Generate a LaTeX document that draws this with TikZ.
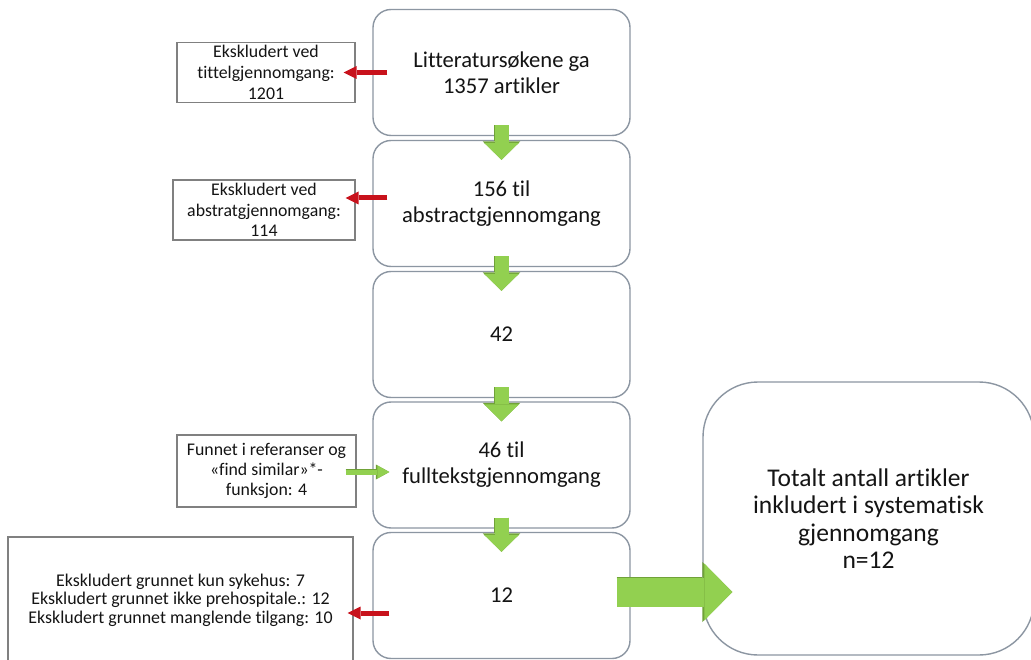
\documentclass[tikz,border=0pt]{standalone}
\usepackage{fontspec}
\setmainfont{Carlito}[Ligatures=NoCommon]
\usetikzlibrary{arrows.meta,calc}
\definecolor{gfill}{RGB}{146,208,80}
\definecolor{gline}{RGB}{112,162,56}
\definecolor{rfill}{RGB}{200,18,28}
\definecolor{bline}{RGB}{140,150,162}
\definecolor{lline}{RGB}{128,128,128}
\definecolor{txt}{RGB}{20,20,20}
\begin{document}
\begin{tikzpicture}[x=1pt,y=-1pt,
  flowbox/.style={draw=bline, line width=1.4pt, rounded corners=18pt, minimum width=257pt, minimum height=126pt, align=center, text=txt, font=\fontsize{22.6}{26}\selectfont, fill=white},
  sidebox/.style={draw=lline, line width=1.1pt, align=center, text=txt, font=\fontsize{17.8}{20.8}\selectfont, fill=white, inner sep=0pt},
  bigbox/.style={draw=bline, line width=1.4pt, rounded corners=55pt, minimum width=331pt, minimum height=273pt, align=center, text=txt, font=\fontsize{25.5}{27.5}\selectfont, fill=white},
  downarr/.style={draw=gfill, line width=14pt, -{Triangle[width=35pt,length=17pt,line width=0pt]},
    preaction={draw=gline, line width=15.6pt, -{Triangle[width=37.5pt,length=18.5pt,line width=0pt]}}},
  smallg/.style={draw=gfill, line width=5pt, -{Triangle[width=13pt,length=12pt,line width=0pt]},
    preaction={draw=gline, line width=6.4pt, -{Triangle[width=15pt,length=13.5pt,line width=0pt]}}},
  bigarr/.style={draw=gfill, line width=29pt, -{Triangle[width=57pt,length=28pt,line width=0pt]},
    preaction={draw=gline, line width=30.8pt, -{Triangle[width=60pt,length=30pt,line width=0pt]}}},
  redarr/.style={draw=rfill, line width=5pt, -{Triangle[width=13pt,length=13pt,line width=0pt]}}
]
\clip (0,0) rectangle (1031,660);
\fill[white] (0,0) rectangle (1031,660);

% central flow boxes
\node[flowbox] (b1) at (501.5,72.5) {Litteratursøkene ga\\1357 artikler};
\node[flowbox] (b2) at (501.5,203.5) {156 til\\abstractgjennomgang};
\node[flowbox] (b3) at (501.5,334.5) {42};
\node[flowbox] (b4) at (501.5,465) {46 til\\fulltekstgjennomgang};
\node[flowbox] (b5) at (501.5,595.5) {12};

% side boxes
\node[sidebox, minimum width=178pt, minimum height=60pt] (ex1) at (266,72.5) {Ekskludert ved\\tittelgjennomgang:\\1201};
\node[sidebox, minimum width=182pt, minimum height=60pt] (ex2) at (264,210) {Ekskludert ved\\abstratgjennomgang:\\114};
\node[sidebox, minimum width=179pt, minimum height=72pt, font=\fontsize{17.8}{20}\selectfont] (fs) at (266.5,471) {Funnet i referanser og\\«find similar»*-\\funksjon: 4};
\node[sidebox, minimum width=345pt, minimum height=126pt, font=\fontsize{17.9}{18.6}\selectfont] (ex5) at (180.5,600) {Ekskludert grunnet kun sykehus: 7\\Ekskludert grunnet ikke prehospitale.: 12\\Ekskludert grunnet manglende tilgang: 10};

% final box
\node[bigbox] (big) at (868.5,518.5) {Totalt antall artikler\\inkludert i systematisk\\gjennomgang\\n=12};

% flow arrows
\draw[downarr, shorten <=-11pt, shorten >=-20pt] (b1.south) -- (b2.north);
\draw[downarr, shorten <=-11pt, shorten >=-20pt] (b2.south) -- (b3.north);
\draw[downarr, shorten <=-11pt, shorten >=-20pt] (b3.south) -- (b4.north);
\draw[downarr, shorten <=-11pt, shorten >=-20pt] (b4.south) -- (b5.north);

% exclusion arrows
\draw[redarr] ($(b1.west)+(15,0)$) -- ($(ex1.east)+(-12,0)$);
\draw[redarr] ($(b2.west)+(15,-5.5)$) -- ($(ex2.east)+(-10,-12)$);
\draw[redarr] ($(b5.west)+(17,17.5)$) -- ($(ex5.east)+(-6,13)$);

% added articles
\draw[smallg] ($(fs.east)+(-11,1)$) -- ($(b4.west)+(17,7)$);

% to final
\draw[bigarr] ($(b5.east)+(-14,-3.5)$) -- ($(big.west)+(30,73.5)$);
\end{tikzpicture}
\end{document}
